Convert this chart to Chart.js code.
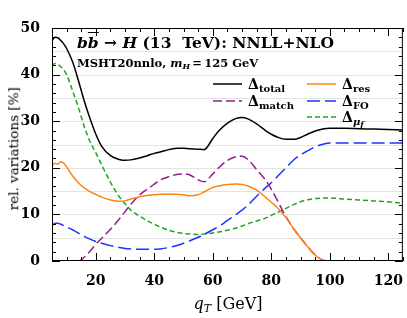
<!DOCTYPE html>
<html>
<head>
<meta charset="utf-8">
<script src="https://cdn.jsdelivr.net/npm/chart.js@4.4.1/dist/chart.umd.min.js"></script>
<style>
  body { margin: 0; background: #fff; }
  #wrap { position: relative; width: 407px; height: 318px; }
  .txt { position: absolute; font-family: "DejaVu Serif", serif; line-height: 1; white-space: nowrap; color: #000; }
  .b { font-weight: bold; }
  .sub { position: relative; top: 3px; font-size: 10px; }
  .lab { font-size: 14px; font-weight: bold; }
</style>
</head>
<body>
<div id="wrap">
  <canvas id="chart" width="407" height="318"></canvas>

  <div class="txt b" style="left:77px; top:35px; font-size:15.5px;">
    <i>b</i><i style="text-decoration:overline">b</i> &rarr; <i>H</i> (13&nbsp; TeV): NNLL+NLO
  </div>
  <div class="txt b" style="left:77px; top:58px; font-size:11.5px;">
    MSHT20nnlo, <i>m</i><span style="font-size:8px; position:relative; top:2px;"><i>H</i></span>&thinsp;=&thinsp;125 GeV
  </div>

  <div class="txt lab" style="left:248px; top:77px;">&Delta;<span class="sub">total</span></div>
  <div class="txt lab" style="left:248px; top:94px;">&Delta;<span class="sub">match</span></div>
  <div class="txt lab" style="left:342px; top:77px;">&Delta;<span class="sub">res</span></div>
  <div class="txt lab" style="left:342px; top:94px;">&Delta;<span class="sub">FO</span></div>
  <div class="txt lab" style="left:342px; top:110px;">&Delta;<span class="sub"><i>&mu;<span style="font-size:8px; position:relative; top:2px;">f</span></i></span></div>

  <div class="txt" style="left:-86px; top:142px; width:200px; text-align:center; font-size:13.5px; transform:rotate(-90deg);">rel. variations [%]</div>
  <div class="txt" style="left:128px; top:296px; width:200px; text-align:center; font-size:16px;">
    <i>q</i><span class="sub" style="font-size:11px;"><i>T</i></span> [GeV]
  </div>
</div>

<script>
const qT = [5, 6, 7, 8, 9, 10, 12, 14, 16, 18, 20, 22, 25, 28, 30, 32, 35, 38, 40, 42, 45, 48, 50, 52, 55, 57,
  60, 62, 65, 68, 70, 72, 75, 78, 80, 82, 85, 88, 90, 92, 95, 98, 100, 105, 110, 115, 120, 125];

const deltaTotal = [47.3, 48.0, 47.9, 47.3, 46.6, 45.6, 42.8, 38.8, 34.4, 30.6, 27.2, 24.6, 22.6, 21.8, 21.6, 21.7,
  22.1, 22.7, 23.1, 23.4, 23.9, 24.2, 24.2, 24.1, 24.0, 23.9, 26.3, 27.9, 29.6, 30.6, 30.8, 30.5, 29.4, 28.0,
  27.2, 26.6, 26.1, 26.1, 26.5, 27.1, 27.9, 28.4, 28.5, 28.5, 28.4, 28.3, 28.2, 28.1];

const deltaRes = [20.4, 21.0, 20.8, 21.3, 21.0, 20.2, 18.3, 16.8, 15.7, 14.9, 14.3, 13.7, 13.1, 12.8, 12.9, 13.3,
  13.8, 14.1, 14.2, 14.3, 14.4, 14.3, 14.2, 14.0, 14.2, 14.8, 15.8, 16.1, 16.4, 16.5, 16.4, 16.1, 15.2, 13.7,
  12.6, 11.5, 9.3, 6.6, 5.0, 3.4, 1.3, 0.1, 0, 0, 0, 0, 0, 0];

const deltaMatch = [0, 0, 0, 0, 0, 0, 0, 0, 0.8, 2.1, 3.6, 4.9, 6.8, 9.0, 10.6, 12.2,
  14.2, 15.6, 16.5, 17.4, 18.1, 18.6, 18.7, 18.5, 17.4, 17.0, 18.7, 20.0, 21.6, 22.4, 22.5, 21.8, 19.6, 17.4,
  15.4, 13.1, 9.5, 6.6, 5.0, 3.4, 1.3, 0.1, 0, 0, 0, 0, 0, 0];

const deltaFO = [7.6, 8.1, 8.1, 7.9, 7.6, 7.3, 6.7, 6.0, 5.3, 4.7, 4.2, 3.8, 3.3, 2.9, 2.7, 2.6,
  2.5, 2.5, 2.5, 2.6, 2.9, 3.4, 3.8, 4.3, 5.1, 5.7, 6.7, 7.4, 8.7, 10.0, 10.9, 12.0, 13.9, 15.7,
  16.8, 18.1, 20.0, 21.9, 22.8, 23.5, 24.5, 25.1, 25.3, 25.3, 25.3, 25.3, 25.3, 25.3];

const deltaMuF = [41.8, 42.4, 42.2, 41.7, 41.0, 40.0, 36.6, 33.0, 28.9, 25.6, 23.2, 20.6, 16.9, 13.8, 12.3, 10.9,
  9.6, 8.5, 7.9, 7.3, 6.6, 6.1, 5.9, 5.8, 5.7, 5.8, 6.0, 6.2, 6.6, 7.1, 7.5, 8.0, 8.6, 9.2,
  9.8, 10.4, 11.3, 12.2, 12.7, 13.1, 13.4, 13.5, 13.5, 13.3, 13.1, 12.9, 12.7, 12.4];

const xTicks = [20, 40, 60, 80, 100, 120];
const yTicks = [0, 10, 20, 30, 40, 50];

function pts(arr) {
    return qT.map((x, i) => ({ x: x, y: arr[i] }));
}

// legend samples: [x, y] of line start, length 29px
const legendPos = [[213, 84], [307, 84], [213, 101], [307, 101], [307, 117]];

const frameTicks = {
    id: 'frameTicks',
    beforeDatasetsDraw(chart) {
        const { ctx, chartArea: a, scales: { y } } = chart;
        ctx.save();
        ctx.strokeStyle = '#e3e3e3';
        ctx.lineWidth = 1;
        for (let v = 5; v < 50; v += 5) {
            const py = Math.round(y.getPixelForValue(v)) + 0.5;
            ctx.beginPath();
            ctx.moveTo(a.left, py);
            ctx.lineTo(a.right, py);
            ctx.stroke();
        }
        ctx.restore();
    },
    afterDatasetsDraw(chart) {
        const { ctx, chartArea: a, scales: { x, y } } = chart;
        ctx.save();
        ctx.strokeStyle = '#000';
        ctx.lineWidth = 1;
        ctx.strokeRect(a.left + 0.5, a.top + 0.5, a.right - a.left - 1, a.bottom - a.top - 1);
        ctx.beginPath();
        for (let v = 0; v <= 50; v += 2) {
            const py = Math.round(y.getPixelForValue(v)) + 0.5;
            const len = v % 10 === 0 ? 8 : 4;
            ctx.moveTo(a.left, py); ctx.lineTo(a.left + len, py);
            ctx.moveTo(a.right, py); ctx.lineTo(a.right - len, py);
        }
        for (let v = 5; v <= 125; v += 5) {
            const px = Math.round(x.getPixelForValue(v)) + 0.5;
            const len = v % 20 === 0 ? 8 : 4;
            ctx.moveTo(px, a.bottom); ctx.lineTo(px, a.bottom - len);
            ctx.moveTo(px, a.top); ctx.lineTo(px, a.top + len);
        }
        ctx.stroke();

        // legend line samples
        chart.data.datasets.forEach((ds, i) => {
            const [lx, ly] = legendPos[i];
            ctx.beginPath();
            ctx.strokeStyle = ds.borderColor;
            ctx.lineWidth = ds.borderWidth;
            ctx.setLineDash(ds.borderDash || []);
            ctx.moveTo(lx, ly);
            ctx.lineTo(lx + 29, ly);
            ctx.stroke();
        });
        ctx.restore();
    }
};

new Chart(document.getElementById('chart'), {
    type: 'line',
    data: {
        datasets: [
            { label: 'total', data: pts(deltaTotal), borderColor: '#000000', borderWidth: 1.5 },
            { label: 'res', data: pts(deltaRes), borderColor: '#ff8410', borderWidth: 1.5 },
            { label: 'match', data: pts(deltaMatch), borderColor: '#8f1f8f', borderWidth: 1.5, borderDash: [9, 4] },
            { label: 'FO', data: pts(deltaFO), borderColor: '#1c34ff', borderWidth: 1.5, borderDash: [13, 5] },
            { label: 'muf', data: pts(deltaMuF), borderColor: '#1ea51e', borderWidth: 1.5, borderDash: [5, 3] }
        ]
    },
    options: {
        responsive: false,
        animation: false,
        devicePixelRatio: 1,
        layout: { padding: { top: 28, right: 3, left: 0, bottom: 0 } },
        elements: {
            point: { radius: 0 },
            line: { cubicInterpolationMode: 'monotone', fill: false }
        },
        plugins: {
            legend: { display: false },
            tooltip: { enabled: false }
        },
        scales: {
            x: {
                type: 'linear',
                min: 5,
                max: 125,
                grid: { display: false },
                border: { display: false },
                afterBuildTicks: (s) => { s.ticks = xTicks.map(v => ({ value: v })); },
                afterFit: (s) => { s.height = 57; },
                ticks: {
                    padding: 4,
                    color: '#000',
                    font: { family: 'DejaVu Serif', weight: 'bold', size: 14 }
                }
            },
            y: {
                min: 0,
                max: 50,
                grid: { display: false },
                border: { display: false },
                afterBuildTicks: (s) => { s.ticks = yTicks.map(v => ({ value: v })); },
                afterFit: (s) => { s.width = 52; },
                ticks: {
                    padding: 4,
                    color: '#000',
                    font: { family: 'DejaVu Serif', weight: 'bold', size: 14 }
                }
            }
        }
    },
    plugins: [frameTicks]
});
</script>
</body>
</html>
